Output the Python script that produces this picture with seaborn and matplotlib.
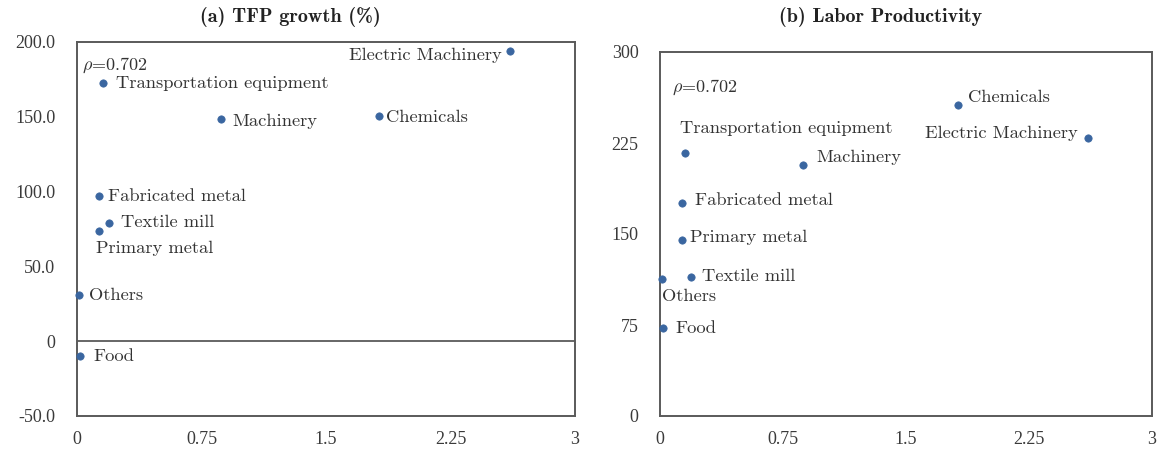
import matplotlib
matplotlib.use("Agg")
import matplotlib.pyplot as plt
import seaborn as sns
import pandas as pd
from matplotlib.ticker import FixedLocator, FixedFormatter

sns.set_style("white")
plt.rcParams["font.family"] = ["cmr10", "DejaVu Serif"]
plt.rcParams["mathtext.fontset"] = "cm"
plt.rcParams["axes.unicode_minus"] = False

industries = ["Electric Machinery", "Transportation equipment", "Machinery",
              "Chemicals", "Fabricated metal", "Textile mill", "Primary metal",
              "Others", "Food"]
x_values = [2.61, 0.155, 0.87, 1.82, 0.135, 0.19, 0.135, 0.01, 0.02]
tfp_growth = [194.0, 172.6, 148.5, 150.5, 97.1, 79.2, 73.9, 30.9, -10.2]
labor_prod = [229.1, 216.7, 206.8, 256.3, 175.8, 114.3, 145.0, 112.6, 72.2]

x_ticks = [0, 0.75, 1.5, 2.25, 3]
x_tick_labels = ["0", "0.75", "1.5", "2.25", "3"]
tfp_ticks = [-50, 0, 50, 100, 150, 200]
tfp_tick_labels = ["-50.0", "0", "50.0", "100.0", "150.0", "200.0"]
lp_ticks = [0, 75, 150, 225, 300]
lp_tick_labels = ["0", "75", "150", "225", "300"]
rho_label = r"$\rho$=0.702"

df = pd.DataFrame({"industry": industries, "x": x_values,
                   "tfp": tfp_growth, "lp": labor_prod})

# label placement per panel: (dx, dy in points, horizontal alignment)
place_a = {
    "Electric Machinery": (-5.8, -2.9, "right"),
    "Transportation equipment": (9.6, 0, "left"),
    "Machinery": (7.9, -1.4, "left"),
    "Chemicals": (5.3, -0.7, "left"),
    "Fabricated metal": (6.5, 0, "left"),
    "Textile mill": (8.9, 0, "left"),
    "Primary metal": (-2.4, -12.7, "left"),
    "Others": (7.2, 0, "left"),
    "Food": (9.6, 0, "left"),
}
place_b = {
    "Electric Machinery": (-7.2, 3.6, "right"),
    "Transportation equipment": (-4.1, 18, "left"),
    "Machinery": (10, 5.8, "left"),
    "Chemicals": (7.2, 5.8, "left"),
    "Fabricated metal": (9.6, 2, "left"),
    "Primary metal": (6, 2, "left"),
    "Textile mill": (7.9, 0.7, "left"),
    "Others": (0, -12, "left"),
    "Food": (8.9, 0, "left"),
}

fig = plt.figure(figsize=(11.6, 4.5), dpi=100)
ax_a = fig.add_axes([77 / 1160, 34 / 450, 498 / 1160, 374 / 450])
ax_b = fig.add_axes([660 / 1160, 34 / 450, 492 / 1160, 364 / 450])

dot_color = "#3a66a0"
text_color = "#333333"
spine_color = "#5a5a5a"


def style_axis(ax, yticks, ylabels, ylim):
    ax.set_xlim(0, 3)
    ax.set_ylim(*ylim)
    ax.xaxis.set_major_locator(FixedLocator(x_ticks))
    ax.xaxis.set_major_formatter(FixedFormatter(x_tick_labels))
    ax.yaxis.set_major_locator(FixedLocator(yticks))
    ax.yaxis.set_major_formatter(FixedFormatter(ylabels))
    ax.set_xlabel("")
    ax.set_ylabel("")
    for sp in ax.spines.values():
        sp.set_color(spine_color)
        sp.set_linewidth(1.4)
        sp.set_visible(True)
    ax.tick_params(axis="both", direction="inout", length=5, width=1,
                   color=spine_color, labelcolor="#3a3a3a", labelsize=13,
                   labelfontfamily="Liberation Serif")
    ax.tick_params(axis="x", pad=8)
    ax.tick_params(axis="y", pad=13)


def annotate(ax, ycol, place):
    for _, row in df.iterrows():
        dx, dy, ha = place[row["industry"]]
        ax.annotate(row["industry"], (row["x"], row[ycol]),
                    xytext=(dx, dy), textcoords="offset points",
                    ha=ha, va="center", fontsize=13.3, color=text_color)


sns.scatterplot(data=df, x="x", y="tfp", ax=ax_a, color=dot_color, s=28,
                marker="o", edgecolor=dot_color, linewidth=0.5, zorder=3,
                clip_on=False)
ax_a.axhline(0, color=spine_color, linewidth=1.3, zorder=1)
style_axis(ax_a, tfp_ticks, tfp_tick_labels, (-50, 200))
annotate(ax_a, "tfp", place_a)
ax_a.text(0.01, 0.964, rho_label, transform=ax_a.transAxes, ha="left",
          va="top", fontsize=13, color=text_color)

sns.scatterplot(data=df, x="x", y="lp", ax=ax_b, color=dot_color, s=28,
                marker="o", edgecolor=dot_color, linewidth=0.5, zorder=3,
                clip_on=False)
style_axis(ax_b, lp_ticks, lp_tick_labels, (0, 300))
annotate(ax_b, "lp", place_b)
ax_b.text(0.024, 0.93, rho_label, transform=ax_b.transAxes, ha="left",
          va="top", fontsize=13, color=text_color)

fig.text(290 / 1160, 1 - 17 / 450, "(a) TFP growth (%)", ha="center",
         va="center", fontsize=14.5, fontweight="bold",
         family=["cmb10", "DejaVu Serif"], color="#222222")
fig.text(881 / 1160, 1 - 17 / 450, "(b) Labor Productivity", ha="center",
         va="center", fontsize=14.5, fontweight="bold",
         family=["cmb10", "DejaVu Serif"], color="#222222")

fig.savefig("out.png", dpi=100)
